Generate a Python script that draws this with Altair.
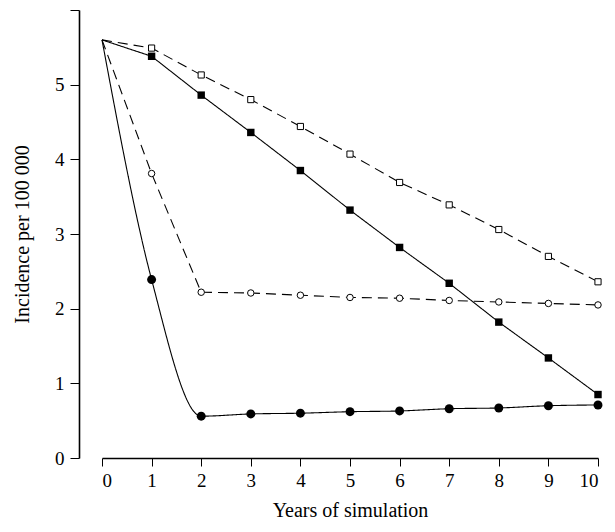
import altair as alt
import pandas as pd

years = [0, 1, 2, 3, 4, 5, 6, 7, 8, 9, 10]
filled_circle = [5.6, 2.39, 0.56, 0.59, 0.60, 0.62, 0.63, 0.66, 0.67, 0.70, 0.71]
open_circle = [5.6, 3.81, 2.22, 2.21, 2.18, 2.15, 2.14, 2.11, 2.09, 2.07, 2.05]
filled_square = [5.6, 5.38, 4.86, 4.36, 3.85, 3.32, 2.82, 2.34, 1.82, 1.34, 0.85]
open_square = [5.6, 5.49, 5.13, 4.80, 4.44, 4.07, 3.69, 3.39, 3.06, 2.70, 2.36]

series = {
    "filled_circle": filled_circle,
    "open_circle": open_circle,
    "filled_square": filled_square,
    "open_square": open_square,
}
rows = []
for name, vals in series.items():
    for x, y in zip(years, vals):
        rows.append({"series": name, "year": x, "value": y})
df = pd.DataFrame(rows)

FONT = "Liberation Serif"

x_enc = alt.X(
    "year:Q",
    scale=alt.Scale(domain=[0, 10], nice=False, zero=False),
    axis=alt.Axis(
        title="Years of simulation",
        values=list(range(11)),
        format="d",
        grid=False,
        tickSize=8,
        labelPadding=5,
        titlePadding=10,
        domainColor="black",
        tickColor="black",
        domainWidth=1.3,
    ),
)
y_enc = alt.Y(
    "value:Q",
    scale=alt.Scale(domain=[0, 6], nice=False),
    axis=alt.Axis(
        title="Incidence per 100 000",
        values=[0, 1, 2, 3, 4, 5, 6],
        labelExpr="datum.value == 6 ? '' : datum.label",
        grid=False,
        offset=23,
        tickSize=9,
        labelPadding=6,
        titlePadding=22,
        domainColor="black",
        tickColor="black",
        domainWidth=1.6,
    ),
)

base = alt.Chart(df).encode(x=x_enc, y=y_enc)

def line(name, dash, interp="linear"):
    return base.transform_filter(alt.datum.series == name).mark_line(
        color="black", strokeWidth=1.1, strokeDash=dash, interpolate=interp
    )

def pts(name, shape, filled, size):
    return base.transform_filter(
        (alt.datum.series == name) & (alt.datum.year > 0)
    ).mark_point(
        shape=shape,
        filled=True,
        fill="black" if filled else "white",
        stroke="black",
        strokeWidth=1 if not filled else 0,
        size=size,
        opacity=1,
    )

chart = alt.layer(
    line("filled_circle", [1, 0], "monotone"),
    line("open_circle", [10, 6]),
    line("filled_square", [1, 0]),
    line("open_square", [10, 6]),
    pts("filled_circle", "circle", True, 80),
    pts("open_circle", "circle", False, 42),
    pts("filled_square", "square", True, 55),
    pts("open_square", "square", False, 38),
).properties(
    width=496,
    height=448,
    autosize=alt.AutoSizeParams(type="none"),
    padding={"left": 94, "top": 2, "right": 9, "bottom": 66},
).configure_view(stroke=None).configure_axis(
    labelFont=FONT,
    titleFont=FONT,
    labelFontSize=19,
    titleFontSize=20,
    titleFontWeight="normal",
    labelColor="black",
    titleColor="black",
)

chart.save("out.html", embed_options={"renderer": "svg", "actions": False})
